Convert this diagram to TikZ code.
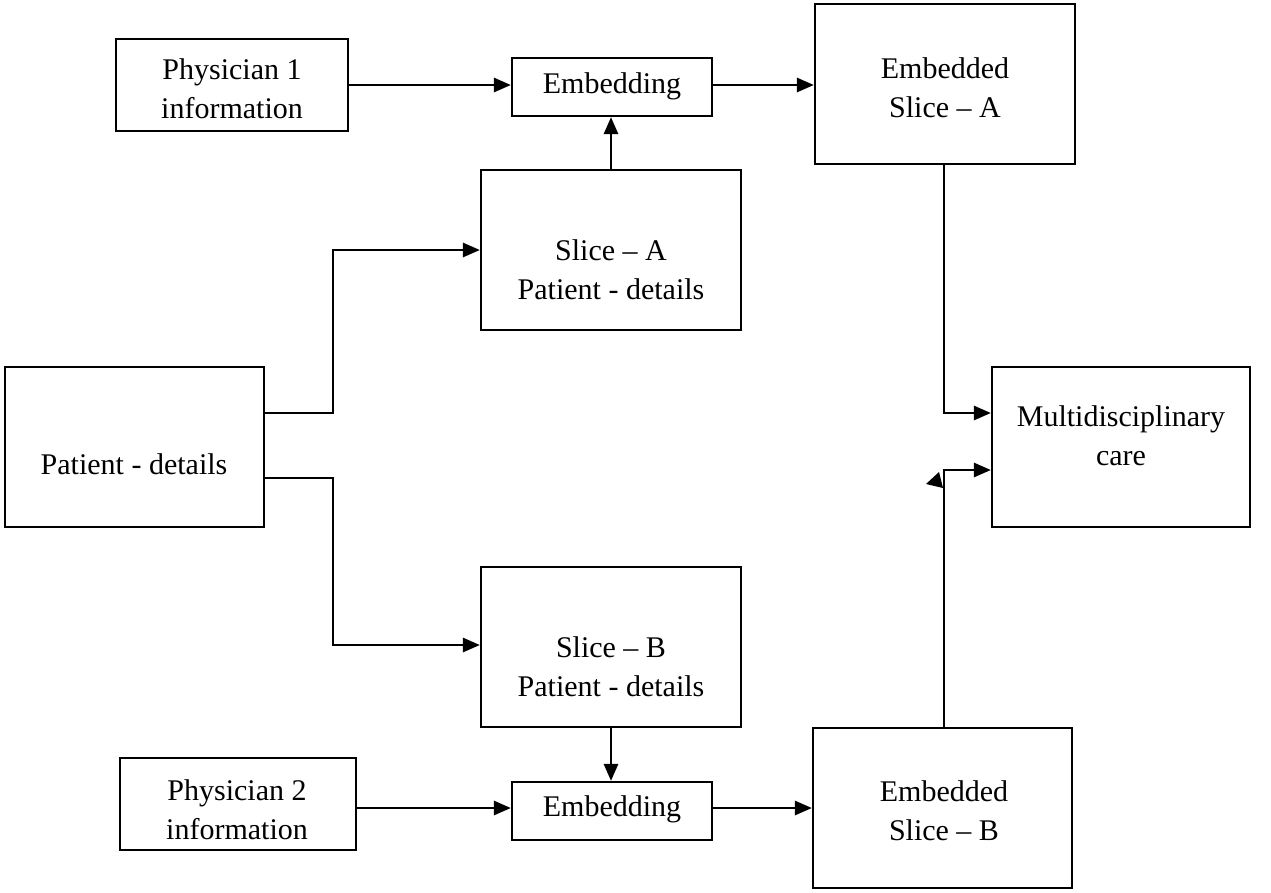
\documentclass[tikz,border=0pt]{standalone}
\usepackage{fontspec}
\setmainfont{Liberation Serif}
\usetikzlibrary{arrows.meta}
\begin{document}
\begin{tikzpicture}[x=1pt,y=-1pt,
  box/.style={draw, line width=2.2pt, inner sep=0pt},
  lbl/.style={align=center, font=\fontsize{30}{39}\selectfont, inner sep=0pt},
  conn/.style={line width=2.8pt, -{Triangle[length=17pt,width=14pt]}},
  plain/.style={line width=2.8pt}]
\useasboundingbox (0,0) rectangle (1271,892);
% boxes
\node[box, minimum width=232pt, minimum height=92pt] (p1) at (232,85) {};
\node[box, minimum width=200pt, minimum height=58pt] (e1) at (612,87) {};
\node[box, minimum width=260pt, minimum height=160pt] (ea) at (945,84) {};
\node[box, minimum width=260pt, minimum height=160pt] (sa) at (611,250) {};
\node[box, minimum width=259pt, minimum height=160pt] (pd) at (134.5,447) {};
\node[box, minimum width=258pt, minimum height=160pt] (mc) at (1121,447) {};
\node[box, minimum width=260pt, minimum height=160pt] (sb) at (611,647) {};
\node[box, minimum width=236pt, minimum height=92pt] (p2) at (238,804) {};
\node[box, minimum width=200pt, minimum height=58pt] (e2) at (612,811) {};
\node[box, minimum width=259pt, minimum height=160pt] (eb) at (942.5,808) {};
% texts
\node[lbl] (tp1) at (232,89) {Physician 1\\information};
\node[lbl] (te1) at (612,86) {Embedding};
\node[lbl] (tea) at (945,88) {Embedded\\Slice -- A};
\node[lbl] (tsa) at (611,270) {Slice -- A\\Patient - details};
\node[lbl] (tpd) at (134,464) {Patient - details};
\node[lbl] (tmc) at (1121,436) {Multidisciplinary\\care};
\node[lbl] (tsb) at (611,667) {Slice -- B\\Patient - details};
\node[lbl] (tp2) at (237,810) {Physician 2\\information};
\node[lbl] (te2) at (612,809) {Embedding};
\node[lbl] (teb) at (944,811) {Embedded\\Slice -- B};
% connectors
\coordinate (y85) at (0,85);
\coordinate (y808) at (0,808);
\draw[conn] (p1.east |- y85) -- (e1.west |- y85);
\draw[conn] (e1.east |- y85) -- (ea.west |- y85);
\draw[conn] (sa.north) -- (sa.north |- e1.south);
\coordinate (pa1) at (333,413);
\coordinate (pa2) at (333,250);
\draw[conn] (pd.east |- pa1) -- (pa1) -- (pa2) -- (sa.west |- pa2);
\coordinate (pb1) at (333,478);
\coordinate (pb2) at (333,645);
\draw[conn] (pd.east |- pb1) -- (pb1) -- (pb2) -- (sb.west |- pb2);
\draw[conn] (sb.south) -- (sb.south |- e2.north);
\draw[conn] (p2.east |- y808) -- (e2.west |- y808);
\draw[conn] (e2.east |- y808) -- (eb.west |- y808);
\coordinate (ma) at (944,413);
\draw[conn] (ea.south -| ma) -- (ma) -- (mc.west |- ma);
\coordinate (mb) at (944,470);
\draw[conn] (eb.north -| mb) -- (mb) -- (mc.west |- mb);
\fill (926,484) -- (939,472) -- (943,488) -- cycle;
\end{tikzpicture}
\end{document}
